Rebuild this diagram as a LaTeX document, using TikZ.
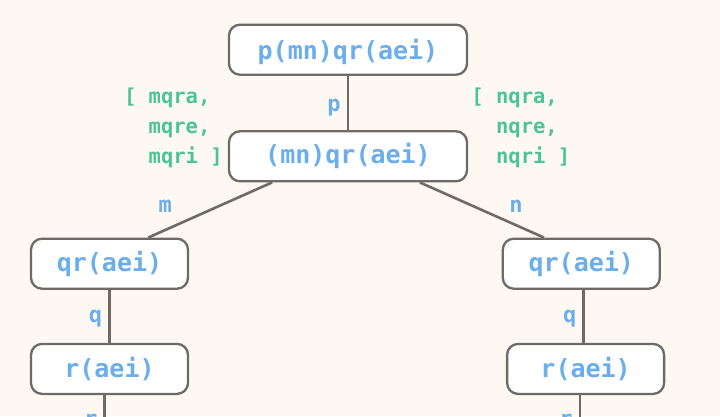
\documentclass[tikz,border=0pt]{standalone}
\usepackage{fontspec}
\setmonofont{DejaVu Sans Mono}
\usetikzlibrary{positioning, calc}
\definecolor{paper}{HTML}{FDF8F1}
\definecolor{rule}{HTML}{6E6A66}
\definecolor{sym}{HTML}{6CAEEC}
\definecolor{word}{HTML}{4DC397}

\begin{document}
\begin{tikzpicture}[x=1pt, y=-1pt, semithick,
    trie/.style={draw=rule, line width=2.3pt, fill=white, rounded corners=11pt,
      minimum width=157pt, minimum height=50pt, inner sep=0pt, text=sym,
      font=\ttfamily\bfseries\fontsize{25}{30}\selectfont},
    link/.style={draw=rule, line width=2.6pt},
    lab/.style={text=sym, inner sep=2pt, text height=12pt, text depth=0pt,
      font=\ttfamily\bfseries\fontsize{22}{26}\selectfont},
    words/.style={text=word, inner sep=0pt, anchor=base west,
      font=\ttfamily\bfseries\fontsize{20.5}{30}\selectfont}]
  \fill[paper] (0,0) rectangle (720,416);
  \useasboundingbox (0,0) rectangle (720,416);
  \clip (0,0) rectangle (720,416);

  \node[trie, minimum width=238pt, text depth=2pt, text height=22pt] (root) at (348,49.7) {p(mn)qr(aei)};
  \node[trie, minimum width=238pt] (mn) at (348,156.3) {(mn)qr(aei)};
  \node[trie] (qrM) at (109.5,263.7) {qr(aei)};
  \node[trie] (qrN) at (581.3,263.7) {qr(aei)};
  \node[trie] (rM) at (109.5,368.9) {r(aei)};
  \node[trie] (rN) at (585.6,368.9) {r(aei)};

  % edges
  \coordinate (qN) at (583.6,316);
  \coordinate (nxM) at (104.7,445);
  \coordinate (nxN) at (580,445);
  \draw[link] (root) -- node[lab, left=4pt, yshift=-2pt] {p} (mn);
  \draw[link] (mn.199) -- node[lab, xshift=-45pt, yshift=4pt] {m} (qrM.34);
  \draw[link] (mn.340) -- node[lab, xshift=34pt, yshift=4pt] {n} (qrN.145);
  \draw[link] (qrM) -- node[lab, left=4pt] {q} (rM);
  \draw[link] (qrN.south -| qN) -- node[lab, left=4pt] {q} (rN.north -| qN);
  \draw[link] (rM.south -| nxM) -- node[lab, left=4pt] {r} (nxM);
  \draw[link] (rN.south -| nxN) -- node[lab, left=4pt] {r} (nxN);

  % words reached below each branch
  \node[words] (wM1) at (123.7,103.3) {[ mqra,};
  \node[words] (wM2) at (123.7,133.3) {\phantom{[ }mqre,};
  \node[words] (wM3) at (123.7,163.3) {\phantom{[ }mqri ]};
  \node[words] (wN1) at (471.1,103.3) {[ nqra,};
  \node[words] (wN2) at (471.1,133.3) {\phantom{[ }nqre,};
  \node[words] (wN3) at (471.1,163.3) {\phantom{[ }nqri ]};
\end{tikzpicture}
\end{document}
